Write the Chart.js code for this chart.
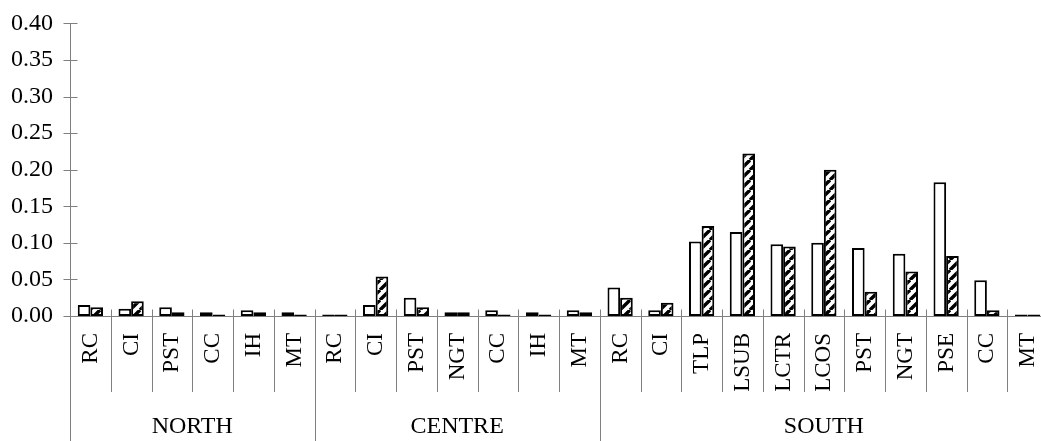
<!DOCTYPE html>
<html>
<head>
<meta charset="utf-8">
<script src="https://cdn.jsdelivr.net/npm/chart.js@4/dist/chart.umd.min.js"></script>
<style>
  html, body { margin: 0; padding: 0; background: #fff; width: 1041px; height: 441px; overflow: hidden; }
  #wrap { width: 1048px; height: 441px; }
  canvas { display: block; }
</style>
</head>
<body>
<div id="wrap"><canvas id="c" width="1048" height="441"></canvas></div>
<script>
// Regions and the indicator codes measured in each one
const groupNames = ['NORTH', 'CENTRE', 'SOUTH'];
const northLabels = ['RC', 'CI', 'PST', 'CC', 'IH', 'MT'];
const centreLabels = ['RC', 'CI', 'PST', 'NGT', 'CC', 'IH', 'MT'];
const southLabels = ['RC', 'CI', 'TLP', 'LSUB', 'LCTR', 'LCOS', 'PST', 'NGT', 'PSE', 'CC', 'MT'];

// First series (open bars), per region
const plainNorth = [0.015, 0.010, 0.012, 0.005, 0.008, 0.005];
const plainCentre = [0.002, 0.015, 0.025, 0.005, 0.008, 0.005, 0.008];
const plainSouth = [0.039, 0.008, 0.102, 0.115, 0.098, 0.100, 0.093, 0.085, 0.183, 0.049, 0.002];

// Second series (hatched bars), per region
const hatchNorth = [0.012, 0.020, 0.005, 0.002, 0.005, 0.002];
const hatchCentre = [0.002, 0.054, 0.012, 0.005, 0.002, 0.002, 0.005];
const hatchSouth = [0.025, 0.018, 0.123, 0.222, 0.095, 0.200, 0.033, 0.061, 0.082, 0.008, 0.002];

// Value axis
const yMin = 0;
const yMax = 0.40;
const yStep = 0.05;

const groups = [northLabels, centreLabels, southLabels];
const categories = [].concat(...groups);
const plainValues = [].concat(plainNorth, plainCentre, plainSouth);
const hatchValues = [].concat(hatchNorth, hatchCentre, hatchSouth);

const SERIF = '"Liberation Serif", "Times New Roman", serif';
const LINE = '#808080';

function makeHatch() {
  const s = 10;
  const c = document.createElement('canvas');
  c.width = s; c.height = s;
  const g = c.getContext('2d');
  g.fillStyle = '#fff';
  g.fillRect(0, 0, s, s);
  g.strokeStyle = '#000';
  g.lineWidth = 3.4;
  g.beginPath();
  for (const k of [-s, 0, s]) {
    g.moveTo(k, s);
    g.lineTo(k + s, 0);
  }
  g.stroke();
  return g.createPattern(c, 'repeat');
}

// Draws the axis lines, crossing ticks, category dividers and the two label rows
const axesPlugin = {
  id: 'groupedAxes',
  afterDraw(chart) {
    const { ctx, chartArea: a, scales: { x, y } } = chart;
    const w = x.getPixelForValue(1) - x.getPixelForValue(0);
    const edge = i => x.getPixelForValue(i) - w / 2;
    const y0 = Math.round(y.getPixelForValue(0)) + 0.5;
    const yTop = Math.round(y.getPixelForValue(yMax)) + 0.5;
    const xAxis = Math.round(a.left) + 0.5;
    const H = chart.height;

    ctx.save();
    ctx.strokeStyle = LINE;
    ctx.lineWidth = 1;
    ctx.beginPath();
    // value axis, continuing down as the first region divider
    ctx.moveTo(xAxis, yTop);
    ctx.lineTo(xAxis, H);
    // value ticks crossing the axis
    for (const t of y.ticks) {
      const ty = Math.round(y.getPixelForValue(t.value)) + 0.5;
      ctx.moveTo(xAxis - 7, ty);
      ctx.lineTo(xAxis + 7, ty);
    }
    // category axis
    ctx.moveTo(a.left, y0);
    ctx.lineTo(a.right, y0);

    // dividers between categories, longer between regions
    const groupStarts = new Set();
    let acc = 0;
    for (const g of groups) { groupStarts.add(acc); acc += g.length; }
    for (let i = 1; i < categories.length; i++) {
      const gx = Math.round(edge(i)) + 0.5;
      ctx.moveTo(gx, y0 - 7);
      ctx.lineTo(gx, groupStarts.has(i) ? H : 392);
    }
    ctx.stroke();

    // category codes, rotated
    ctx.fillStyle = '#000';
    ctx.font = '23px ' + SERIF;
    ctx.textAlign = 'right';
    ctx.textBaseline = 'middle';
    categories.forEach((lab, i) => {
      ctx.save();
      ctx.translate(x.getPixelForValue(i) + 0.5, 333);
      ctx.rotate(-Math.PI / 2);
      ctx.fillText(lab, 0, 0);
      ctx.restore();
    });

    // region names
    ctx.font = '24px ' + SERIF;
    ctx.textAlign = 'center';
    ctx.textBaseline = 'alphabetic';
    let start = 0;
    groups.forEach((g, k) => {
      const cx = (edge(start) + edge(start + g.length)) / 2;
      ctx.fillText(groupNames[k], cx, 433);
      start += g.length;
    });
    ctx.restore();
  }
};

new Chart(document.getElementById('c'), {
  type: 'bar',
  data: {
    labels: categories,
    datasets: [
      {
        data: plainValues,
        backgroundColor: '#ffffff',
        borderColor: '#000000',
        borderWidth: 2,
        borderSkipped: false,
        categoryPercentage: 0.62,
        barPercentage: 1.0
      },
      {
        data: hatchValues,
        backgroundColor: makeHatch(),
        borderColor: '#000000',
        borderWidth: 2,
        borderSkipped: false,
        categoryPercentage: 0.62,
        barPercentage: 1.0
      }
    ]
  },
  options: {
    responsive: false,
    animation: false,
    devicePixelRatio: 1,
    layout: { padding: { top: 23, right: 0, bottom: 125, left: 0 } },
    plugins: { legend: { display: false }, tooltip: { enabled: false } },
    scales: {
      x: { display: false },
      y: {
        min: yMin,
        max: yMax,
        grid: { display: false },
        border: { display: false },
        afterFit(scale) { scale.width = 70; },
        ticks: {
          stepSize: yStep,
          padding: 9,
          color: '#000',
          font: { family: SERIF, size: 24 },
          callback: v => Number(v).toFixed(2)
        }
      }
    }
  },
  plugins: [axesPlugin]
});
</script>
</body>
</html>
